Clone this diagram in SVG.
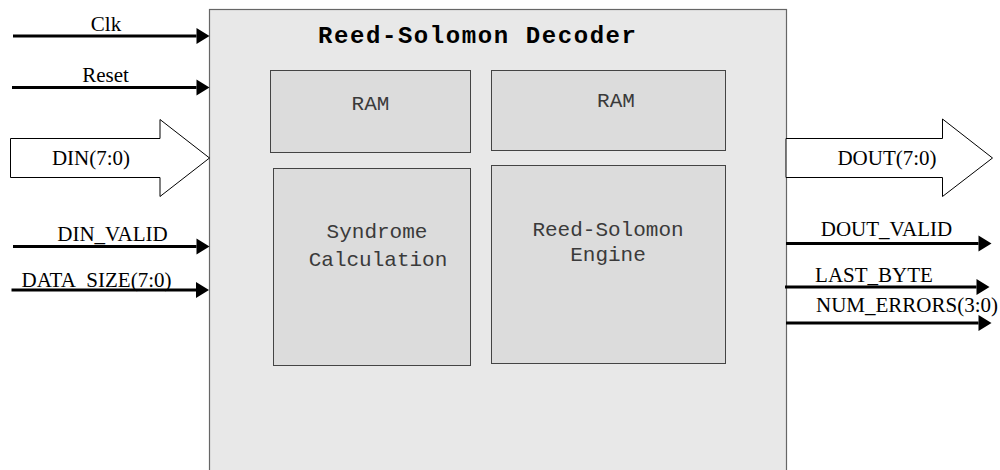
<svg xmlns="http://www.w3.org/2000/svg" width="1000" height="470" viewBox="0 0 1000 470">
<style>
.sig{font-family:"Liberation Serif","Times New Roman",serif;font-size:21px;fill:#000;text-anchor:middle}
.blk{font-family:"Liberation Mono","Courier New",monospace;font-size:21px;fill:#3a3a3a;text-anchor:middle}
.title{font-family:"Liberation Mono","Courier New",monospace;font-size:24px;font-weight:bold;fill:#000;text-anchor:middle}
.inner{fill:#dcdcdc;stroke:#444;stroke-width:1}
.wire{stroke:#000;stroke-width:3;fill:none}
.bus{fill:#fff;stroke:#000;stroke-width:1}
</style>
<defs>
<marker id="ah" markerUnits="userSpaceOnUse" markerWidth="14" markerHeight="17" refX="0" refY="8" orient="auto" overflow="visible">
<path d="M0,0 L13,8 L0,16 Z" fill="#000"/>
</marker>
</defs>
<rect width="1000" height="470" fill="#fff"/>
<g id="decoder">
<rect x="209.5" y="9.5" width="577" height="470" fill="#e8e8e8" stroke="#666" stroke-width="1.2"/>
<text class="title" x="477" y="43" textLength="318" lengthAdjust="spacing">Reed-Solomon Decoder</text>
</g>
<g id="ram1">
<rect class="inner" x="270.5" y="70.5" width="200" height="82"/>
<text class="blk" x="370.5" y="110">RAM</text>
</g>
<g id="ram2">
<rect class="inner" x="491.5" y="70.5" width="234" height="80"/>
<text class="blk" x="616" y="107">RAM</text>
</g>
<g id="syndrome">
<rect class="inner" x="273.5" y="168.5" width="197" height="197"/>
<text class="blk" x="377" y="238">Syndrome</text>
<text class="blk" x="378" y="266">Calculation</text>
</g>
<g id="engine">
<rect class="inner" x="491.5" y="165.5" width="234" height="198"/>
<text class="blk" x="608" y="236">Reed-Solomon</text>
<text class="blk" x="608" y="261">Engine</text>
</g>
<g id="connectors">
<line class="wire" x1="13" y1="36" x2="196.5" y2="36" marker-end="url(#ah)"/>
<line class="wire" x1="12" y1="87.5" x2="196.5" y2="87.5" marker-end="url(#ah)"/>
<polygon class="bus" points="10.5,138.5 160,138.5 160,119.5 209.5,158 160,196.5 160,177.5 10.5,177.5"/>
<line class="wire" x1="13" y1="246.5" x2="196.5" y2="246.5" marker-end="url(#ah)"/>
<line class="wire" x1="11.5" y1="290" x2="196" y2="290" marker-end="url(#ah)"/>
<polygon class="bus" points="786,138.5 942.5,138.5 942.5,119 992.5,158 942.5,196.5 942.5,177.5 786,177.5"/>
<line class="wire" x1="786" y1="243.5" x2="978.5" y2="243.5" marker-end="url(#ah)"/>
<line class="wire" x1="785" y1="287" x2="976.5" y2="287" marker-end="url(#ah)"/>
<line class="wire" x1="786" y1="323" x2="978.5" y2="323" marker-end="url(#ah)"/>
</g>
<g id="labels">
<text class="sig" x="106" y="31">Clk</text>
<text class="sig" x="105.5" y="82">Reset</text>
<text class="sig" x="91" y="165">DIN(7:0)</text>
<text class="sig" x="112.5" y="241">DIN_VALID</text>
<text class="sig" x="96.5" y="287">DATA_SIZE(7:0)</text>
<text class="sig" x="887" y="165">DOUT(7:0)</text>
<text class="sig" x="886.5" y="236">DOUT_VALID</text>
<text class="sig" x="874" y="281.5">LAST_BYTE</text>
<text class="sig" x="907" y="311.5">NUM_ERRORS(3:0)</text>
</g>
</svg>
